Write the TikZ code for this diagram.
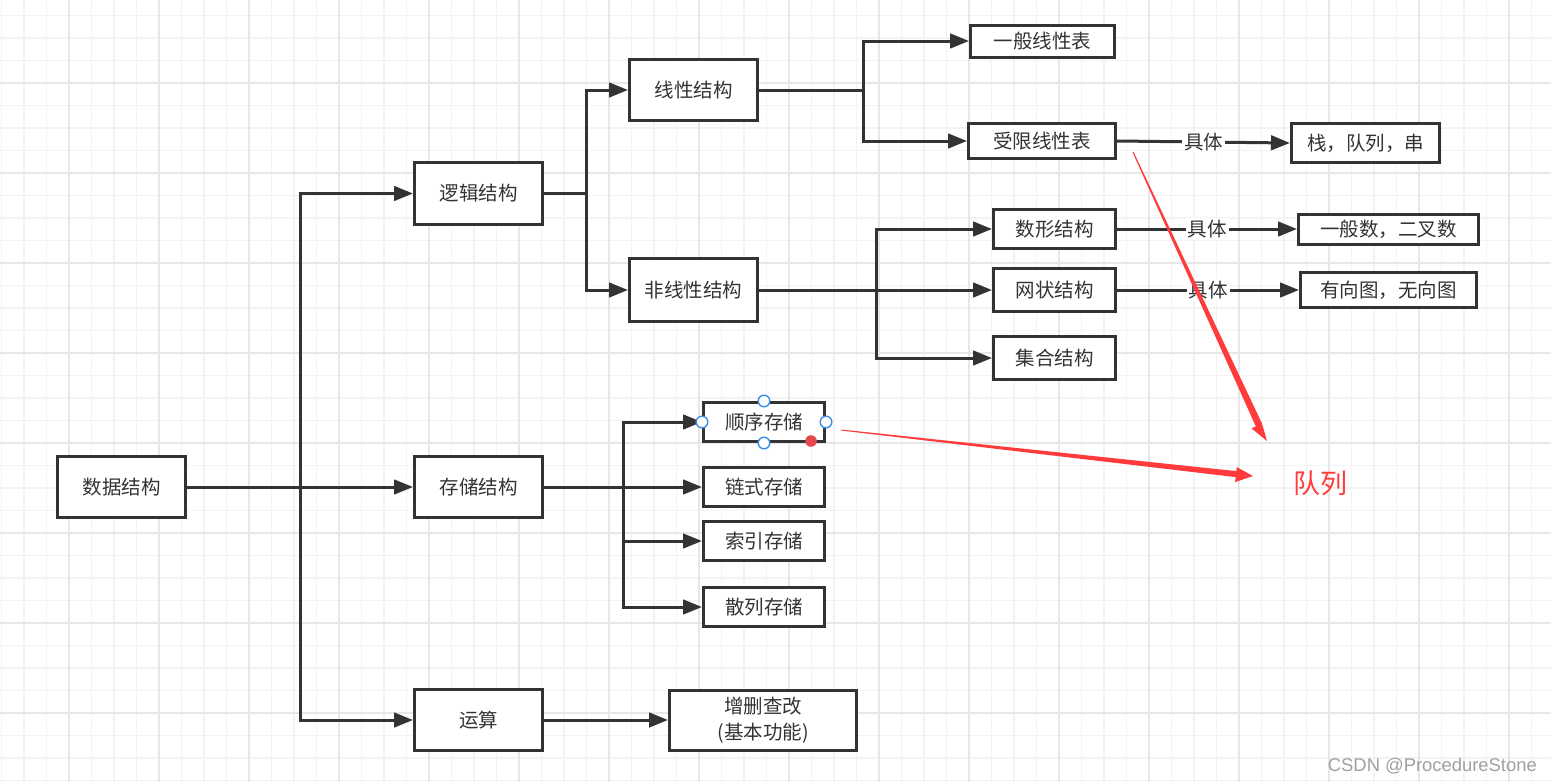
\documentclass[tikz,border=0pt]{standalone}
\usepackage{fontspec}
\setmainfont{Liberation Sans}
\newfontfamily\cjk{Noto Sans CJK SC}
\usetikzlibrary{arrows.meta}
\definecolor{dk}{HTML}{333333}
\definecolor{gminor}{HTML}{F3F3F3}
\definecolor{gmajor}{HTML}{E7E7E7}
\definecolor{redc}{HTML}{FF3B3B}
\definecolor{selblue}{HTML}{3A8EE6}
\definecolor{seldot}{HTML}{E5484D}
\definecolor{wm}{HTML}{A0A0A0}
\begin{document}
\begin{tikzpicture}[x=1pt,y=-1pt,
  box/.style={draw=dk, line width=3pt, fill=white, text=dk,
    font=\cjk\fontsize{19.5}{26}\selectfont, inner sep=0pt, align=center},
  conn/.style={draw=dk, line width=3pt, line cap=rect},
  arr/.style={conn, -{Triangle[length=19pt,width=14.5pt]}},
  lab/.style={fill=white, text=dk, font=\cjk\fontsize{19.5}{23}\selectfont, inner sep=2pt},
  handle/.style={draw=selblue, fill=white, line width=1.4pt}]
% background and grid
\useasboundingbox (0,0) rectangle (1551,782);
\fill[white] (0,0) rectangle (1551,782);
\foreach \k in {0,...,68} \draw[gminor, line width=1.1pt] ({1.5+22.5*\k},0) -- ({1.5+22.5*\k},782);
\foreach \k in {0,...,34} \draw[gminor, line width=1.1pt] (0,{15.5+22.5*\k}) -- (1551,{15.5+22.5*\k});
\foreach \k in {0,...,16} \draw[gmajor, line width=1.1pt] ({69+90*\k},0) -- ({69+90*\k},782);
\foreach \k in {0,...,7} \draw[gmajor, line width=1.1pt] (0,{83+90*\k}) -- (1551,{83+90*\k});

% nodes
\node[box, minimum width=128pt, minimum height=61pt] (ds) at (121.5,487) {数据结构};
\node[box, minimum width=128pt, minimum height=62pt] (lj) at (478.5,193.5) {逻辑结构};
\node[box, minimum width=128pt, minimum height=61pt] (cc) at (478.5,487) {存储结构};
\node[box, minimum width=128pt, minimum height=61pt] (ys) at (478.5,720) {运算};
\node[box, minimum width=128pt, minimum height=61pt] (xx) at (693.5,90) {线性结构};
\node[box, minimum width=128pt, minimum height=63pt] (fx) at (693.5,290) {非线性结构};
\node[box, minimum width=187pt, minimum height=60pt] (zs) at (763,720) {增删查改\\(基本功能)};
\node[box, minimum width=121pt, minimum height=39pt] (sx) at (764,422) {顺序存储};
\node[box, minimum width=121pt, minimum height=39pt] (ls) at (764,487) {链式存储};
\node[box, minimum width=121pt, minimum height=39pt] (sy) at (764,541) {索引存储};
\node[box, minimum width=121pt, minimum height=39pt] (sl) at (764,607) {散列存储};
\node[box, minimum width=144pt, minimum height=32pt] (yb) at (1042.5,41) {一般线性表};
\node[box, minimum width=147pt, minimum height=35pt] (sj) at (1042,141) {受限线性表};
\node[box, minimum width=122pt, minimum height=39pt] (sx2) at (1054.5,229) {数形结构};
\node[box, minimum width=122pt, minimum height=43pt] (wz) at (1054.5,290) {网状结构};
\node[box, minimum width=122pt, minimum height=43pt] (jh) at (1054.5,358) {集合结构};
\node[box, minimum width=148pt, minimum height=39pt] (zl) at (1365.5,143) {栈，队列，串};
\node[box, minimum width=180pt, minimum height=30pt] (ye) at (1388.5,229) {一般数，二叉数};
\node[box, minimum width=176pt, minimum height=35pt] (yx) at (1388.5,290) {有向图，无向图};

% branch points
\coordinate (t) at (300,487);
\coordinate (b1) at (586,193.5);
\coordinate (b2) at (863,90);
\coordinate (b3) at (876,290);
\coordinate (b4) at (623,487);

% connectors
\draw[arr] (ds.east) -- (cc.west);
\draw[arr] (t) |- (lj.west);
\draw[arr] (t) |- (ys.west);
\draw[conn] (lj.east) -- (b1);
\draw[arr] (b1) |- (xx.west);
\draw[arr] (b1) |- (fx.west);
\draw[conn] (xx.east) -- (b2);
\draw[arr] (b2) |- (yb.west);
\draw[arr] (b2) |- (sj.west);
\draw[conn] (fx.east) -- (b3);
\draw[arr] (b3) |- (sx2.west);
\draw[arr] (b3) |- (wz.west);
\draw[arr] (b3) |- (jh.west);
\draw[conn] (cc.east) -- (b4);
\draw[arr] (b4) |- (sx.west);
\draw[arr] (b4) |- (ls.west);
\draw[arr] (b4) |- (sy.west);
\draw[arr] (b4) |- (sl.west);
\draw[arr] (ys.east) -- (zs.west);
\draw[arr] (sj.east) -- node[lab] {具体} (zl.west);
\draw[arr] (sx2.east) -- node[lab] {具体} (ye.west);
\draw[arr] (wz.east) -- node[lab] {具体} (yx.west);

% selection handles on 顺序存储
\draw[handle] (sx.west) circle (5.8pt);
\draw[handle] (sx.east) circle (5.8pt);
\draw[handle] (sx.north) circle (5.8pt);
\draw[handle] (sx.south) circle (5.8pt);
\fill[seldot] (811,441) circle (5.8pt);

% red annotation arrows
\fill[redc] (1132.5,152.2) -- (1255.8,426.4) -- (1251.5,428.4) -- (1267,441) -- (1262.0,423.5) -- (1133.5,151.8) -- cycle;
\fill[redc] (841.06,429.5) -- (1236.3,471.1) -- (1236.8,467.1) -- (1253,476) -- (1235.1,482.1) -- (1235.7,477.1) -- (840.94,430.5) -- cycle;
\node[text=redc, font=\cjk\fontsize{27}{30}\selectfont, inner sep=0pt] (dl) at (1320,483) {队列};

% watermark
\node[text=wm, font=\fontsize{18.4}{20}\selectfont, inner sep=0pt, anchor=east] (wmk) at (1537,766) {CSDN @ProcedureStone};
\end{tikzpicture}
\end{document}
